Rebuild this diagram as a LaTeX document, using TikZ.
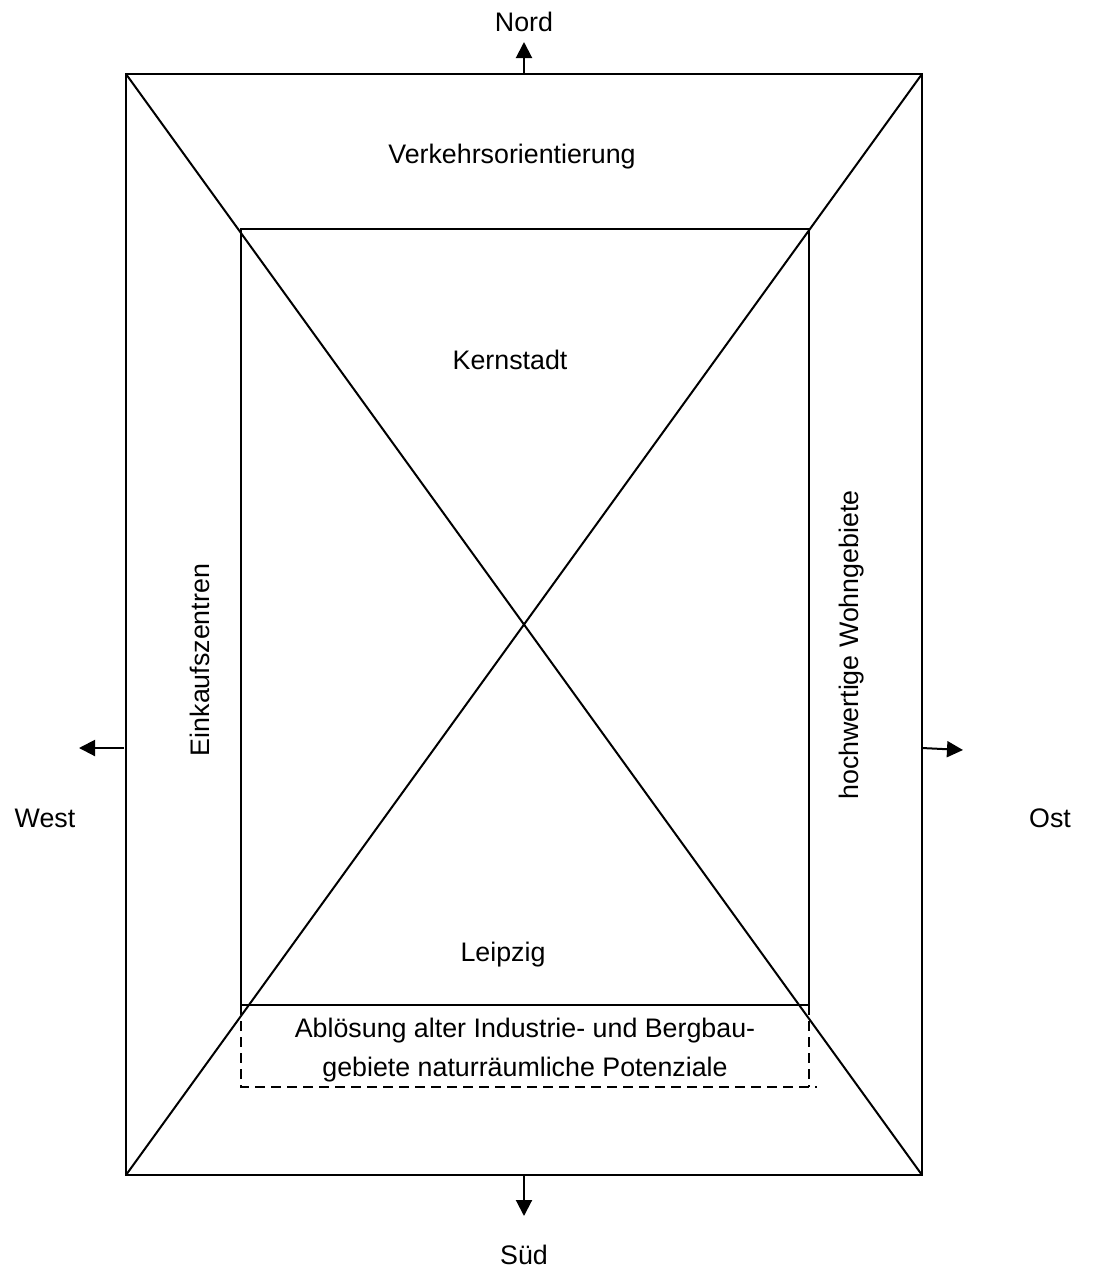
\documentclass[tikz,border=0pt]{standalone}
\usepackage{fontspec}
\setmainfont{Liberation Sans}
\usetikzlibrary{arrows.meta}
\begin{document}
\begin{tikzpicture}[x=0.5pt,y=-0.5pt,
  line/.style={line width=1pt},
  dir/.style={line width=1pt,-{Triangle[length=8pt,width=8pt]}},
  lbl/.style={font=\fontsize{13.4}{16}\selectfont,inner sep=0pt},
  dashbox/.style={line width=0.9pt,dash pattern=on 5pt off 3pt}]
\useasboundingbox (0,0) rectangle (1098,1275);
% outer frame
\coordinate (NW) at (126,74);
\coordinate (NE) at (922,74);
\coordinate (SE) at (922,1175);
\coordinate (SW) at (126,1175);
% inner frame (Kernstadt)
\coordinate (iNW) at (241,229);
\coordinate (iNE) at (809,229);
\coordinate (iSE) at (809,1005);
\coordinate (iSW) at (241,1005);
% dashed zone below
\coordinate (dSW) at (241,1087);
\coordinate (dSE) at (817,1087);
\coordinate (dRB) at (809,1087);
\draw[line] (NW) -- (NE) -- (SE) -- (SW) -- cycle;
\draw[line] (NW) -- (SE);
\draw[line] (NE) -- (SW);
\draw[line] (iNW) -- (iNE) -- (iSE) -- (iSW) -- cycle;
\draw[dashbox] (iSW) -- (dSW) -- (dSE);
\draw[dashbox] (iSE) -- (dRB);
% compass arrows
\coordinate (nB) at (524,74);  \coordinate (nT) at (524,42);
\coordinate (sB) at (524,1175); \coordinate (sT) at (524,1216);
\coordinate (wB) at (124,748); \coordinate (wT) at (79,748);
\coordinate (eB) at (922,748); \coordinate (eT) at (963,750);
\draw[dir] (nB) -- (nT);
\draw[dir] (sB) -- (sT);
\draw[dir] (wB) -- (wT);
\draw[dir] (eB) -- (eT);
\node[lbl] (nord) at (524,22) {Nord};
\node[lbl] (sued) at (524,1255) {Süd};
\node[lbl] (west) at (45,818) {West};
\node[lbl] (ost) at (1050,818) {Ost};
% area labels
\node[lbl] (verk) at (512,157) {Verkehrsorientierung};
\node[lbl] (kern) at (510,360) {Kernstadt};
\node[lbl] (leip) at (503,955) {Leipzig};
\node[lbl,rotate=90] (eink) at (200,660) {Einkaufszentren};
\node[lbl,rotate=90] (wohn) at (852,645) {hochwertige Wohngebiete};
\node[lbl,align=center,font=\fontsize{13.4}{19.5}\selectfont] (abl) at (525,1050)
  {Ablösung alter Industrie- und Bergbau-\\gebiete naturräumliche Potenziale};
\end{tikzpicture}
\end{document}
